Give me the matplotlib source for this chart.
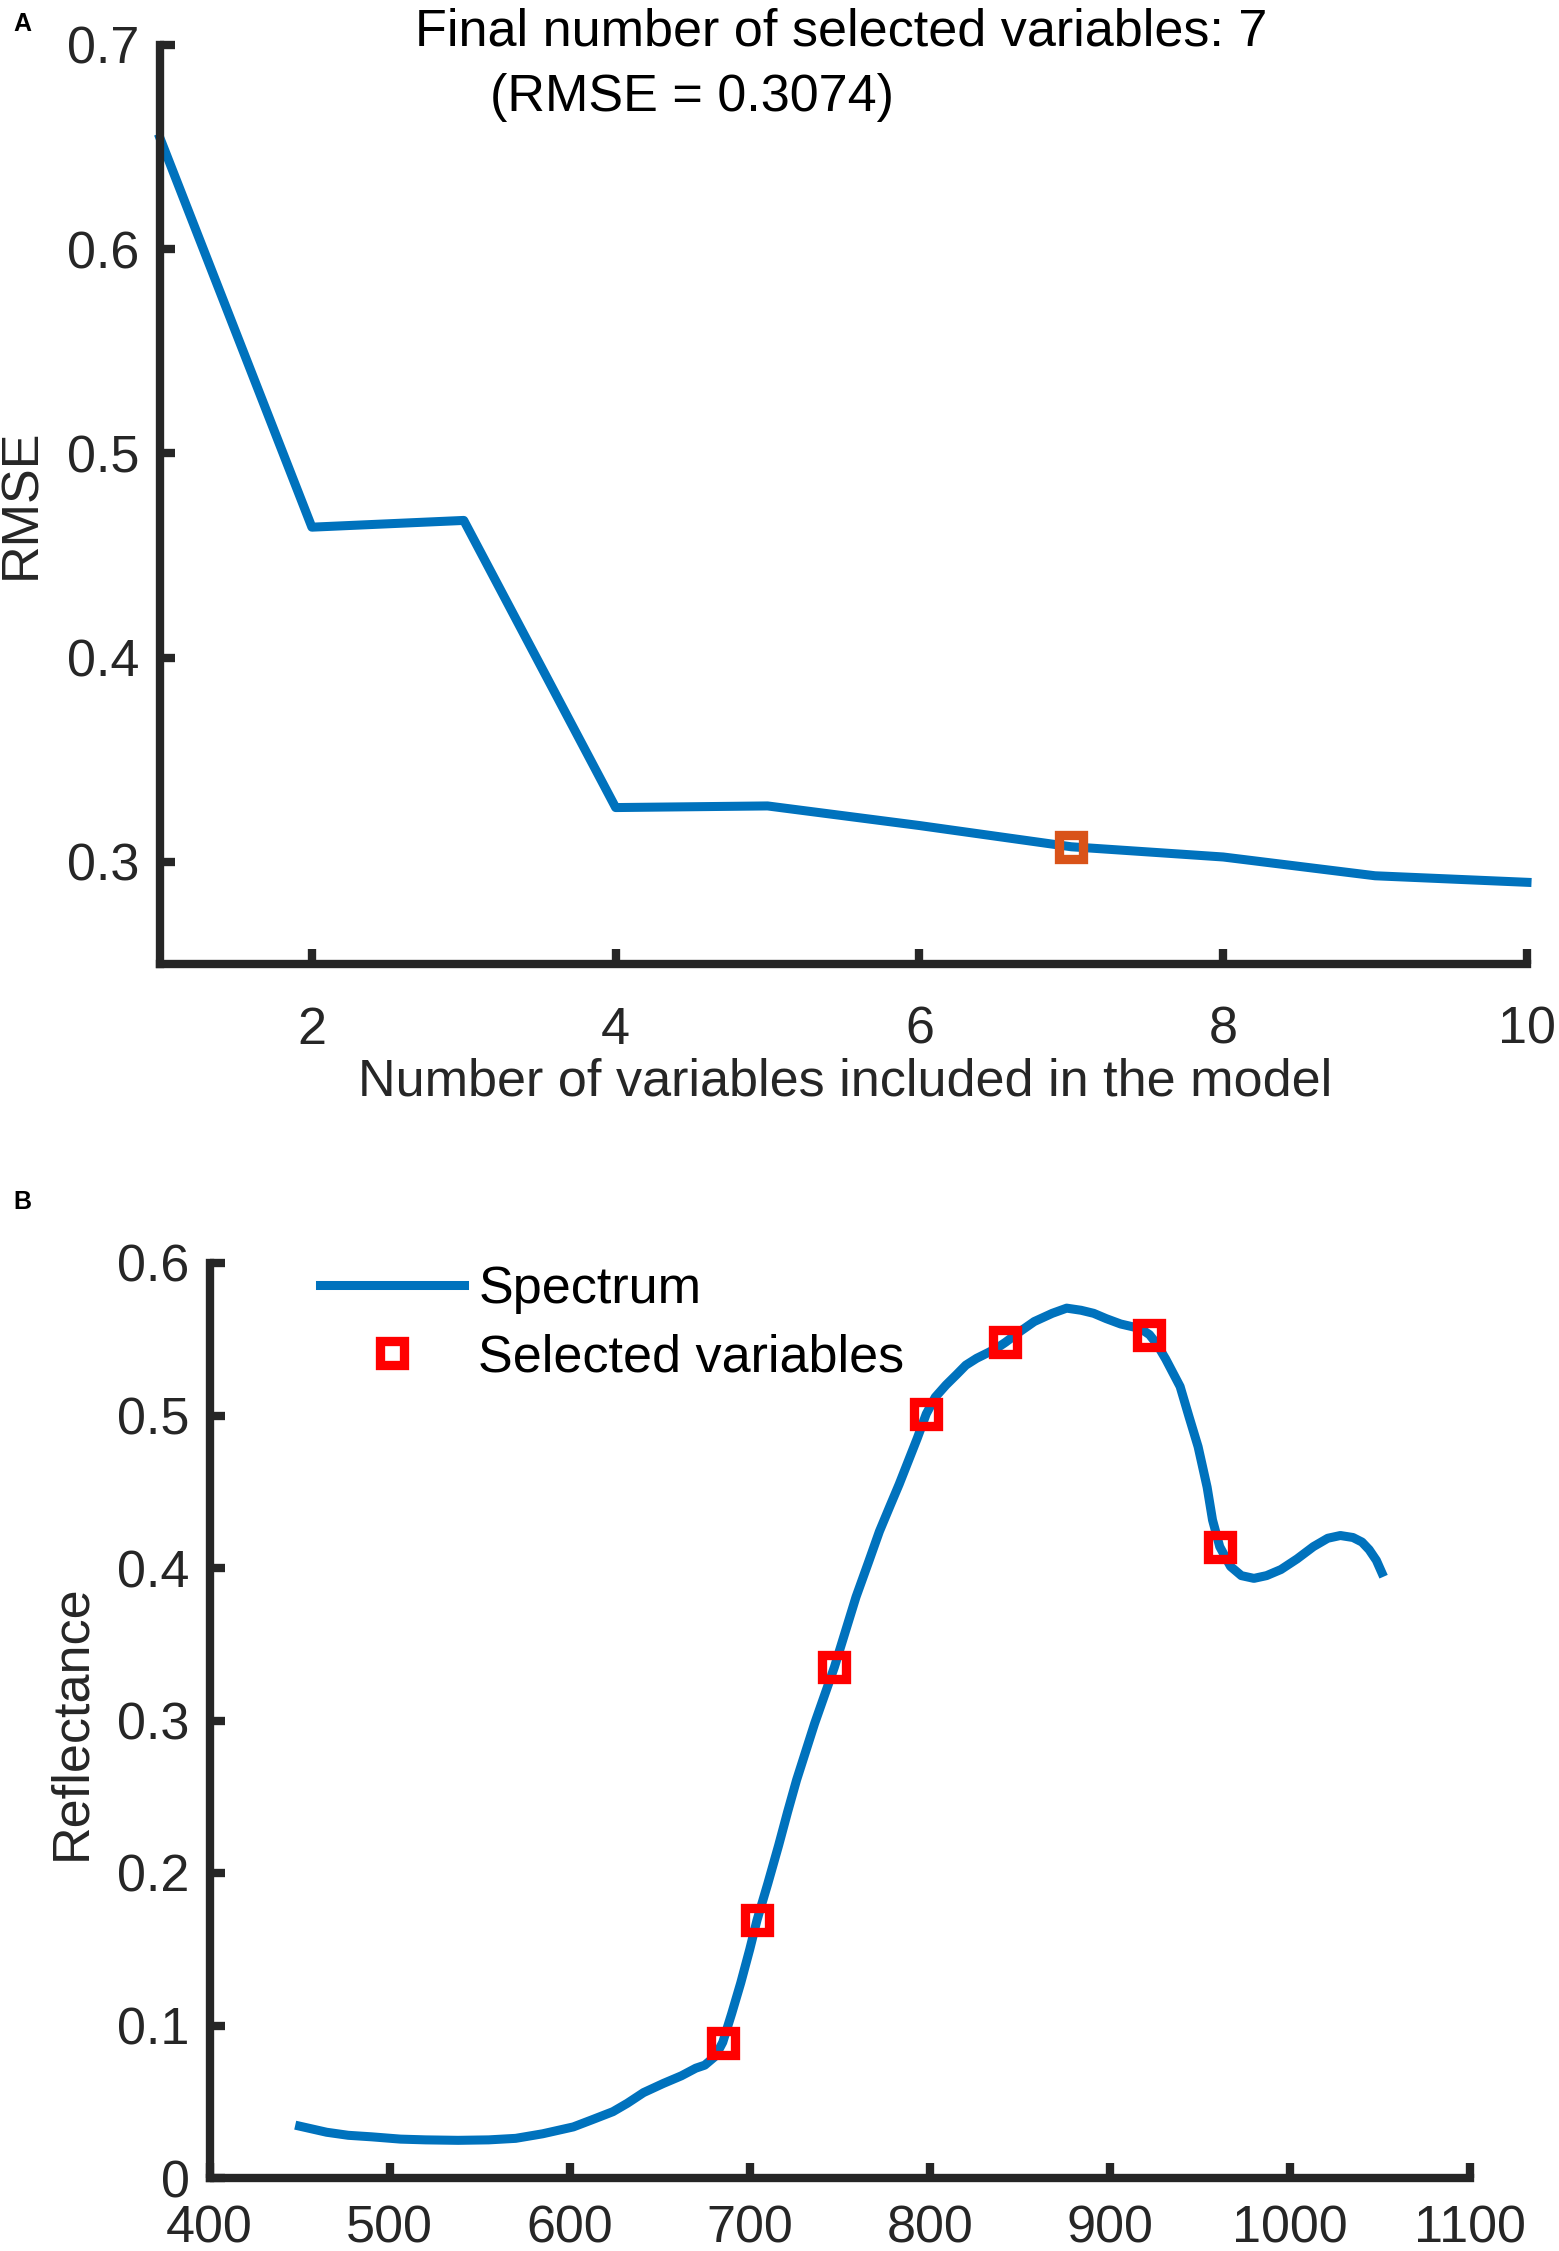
import matplotlib
matplotlib.use('Agg')
import matplotlib.pyplot as plt

plt.rcParams['font.family'] = ['Liberation Sans', 'DejaVu Sans']
plt.rcParams['font.size'] = 37.5

# Panel A: RMSE vs number of variables
n_vars = [1, 2, 3, 4, 5, 6, 7, 8, 9, 10]
rmse = [0.6544, 0.4639, 0.4672, 0.3266, 0.3274, 0.3178, 0.3074, 0.3024, 0.2932, 0.2900]
best_n = 7
best_rmse = 0.3074
a_xticks = [2, 4, 6, 8, 10]
a_yticks = [0.3, 0.4, 0.5, 0.6, 0.7]

# Panel B: reflectance spectrum and the selected wavelengths
wavelength = [450, 465, 477, 490, 506, 520, 538, 555, 570, 585, 602, 612, 624, 632,
              641, 652, 662, 670, 675, 681, 685, 690, 695, 700, 704, 710, 716, 721,
              726, 736, 747, 753, 759, 766, 772, 778, 783, 788, 793, 798, 803, 809,
              815, 820, 826, 832, 837, 842, 850, 858, 868, 876, 884, 891, 898, 906,
              917, 922, 926, 931, 939, 944, 949, 954, 957, 961, 967, 973, 980, 987,
              995, 1004, 1013, 1021, 1028, 1035, 1040, 1044, 1048, 1051]
reflectance = [0.034, 0.030, 0.028, 0.027, 0.0255, 0.025, 0.0247, 0.025, 0.026, 0.029,
               0.0335, 0.038, 0.0435, 0.049, 0.056, 0.062, 0.067, 0.072, 0.074, 0.080,
               0.089, 0.108, 0.128, 0.150, 0.169, 0.193, 0.218, 0.240, 0.261, 0.298,
               0.335, 0.358, 0.381, 0.404, 0.424, 0.441, 0.455, 0.470, 0.485, 0.501,
               0.512, 0.520, 0.527, 0.533, 0.5375, 0.541, 0.544, 0.548, 0.555, 0.5616,
               0.567, 0.5704, 0.569, 0.567, 0.5635, 0.560, 0.557, 0.553, 0.547, 0.537,
               0.519, 0.499, 0.4795, 0.453, 0.4315, 0.414, 0.401, 0.395, 0.3932, 0.395,
               0.399, 0.406, 0.414, 0.4195, 0.4213, 0.420, 0.417, 0.412, 0.405, 0.397]
sel_wavelength = [685, 704, 747, 798, 842, 922, 961]
sel_reflectance = [0.0885, 0.169, 0.335, 0.501, 0.548, 0.553, 0.414]
b_xticks = [400, 500, 600, 700, 800, 900, 1000, 1100]
b_yticks = [0, 0.1, 0.2, 0.3, 0.4, 0.5, 0.6]

blue = '#0072BD'
orange = '#D95319'
dark = '#262626'

W, H = 1559, 2251
fig = plt.figure(figsize=(W / 100, H / 100), dpi=100)


def style_axes(ax, xpad, ypad):
    for s in ['top', 'right']:
        ax.spines[s].set_visible(False)
    for s in ['left', 'bottom']:
        ax.spines[s].set_linewidth(6)
        ax.spines[s].set_color(dark)
    ax.tick_params(direction='in', length=11, width=6, color=dark, labelcolor=dark)
    ax.tick_params(axis='x', pad=xpad)
    ax.tick_params(axis='y', pad=ypad)


# ---- panel A ----
ax1 = fig.add_axes([160 / W, 1 - 964 / H, 1367 / W, 919 / H])
ax1.plot(n_vars, rmse, color=blue, lw=6.5, clip_on=False)
ax1.plot([best_n], [best_rmse], 's', mfc='none', mec=orange, ms=17, mew=6.7, clip_on=False)
ax1.set_xlim(1, 10)
ax1.set_ylim(0.25, 0.7)
ax1.set_xticks(a_xticks)
ax1.set_xticklabels([str(t) for t in a_xticks])
ax1.set_yticks(a_yticks)
ax1.set_yticklabels(['%.1f' % t for t in a_yticks])
style_axes(ax1, 30, 15)

fig.text(841 / W, 1 - 45 / H, 'Final number of selected variables: %d' % best_n,
         ha='center', va='baseline')
fig.text(692 / W, 1 - 111 / H, '(RMSE = %.4f)' % best_rmse, ha='center', va='baseline')
fig.text(845 / W, 1 - 1095 / H, 'Number of variables included in the model',
         ha='center', va='baseline', color=dark)
fig.text(22 / W, 1 - 504 / H, 'RMSE', rotation=90, ha='center', va='center', color=dark)
fig.text(13 / W, 1 - 31 / H, 'A', fontsize=18, fontweight='bold', va='baseline')

# ---- panel B ----
ax2 = fig.add_axes([209.6 / W, 1 - 2178 / H, 1260.4 / W, 915 / H])
ax2.plot(wavelength, reflectance, color=blue, lw=6.5, label='Spectrum')
ax2.plot(sel_wavelength, sel_reflectance, 's', mfc='none', mec='#FF0000', ms=17, mew=6.7,
         label='Selected variables')
ax2.set_xlim(400, 1100)
ax2.set_ylim(0, 0.6)
ax2.set_xticks(b_xticks)
ax2.set_xticklabels([str(t) for t in b_xticks])
ax2.set_yticks(b_yticks)
ax2.set_yticklabels(['0' if t == 0 else '%.1f' % t for t in b_yticks])
style_axes(ax2, 19, 14.5)
ax2.legend(loc='upper left', bbox_to_anchor=(0.0877, 0.998), frameon=False, borderpad=0,
           borderaxespad=0, handlelength=2.77, handletextpad=0.27, labelspacing=0.37,
           numpoints=1)

fig.text(72 / W, 1 - 1722 / H, 'Reflectance', rotation=90, ha='center', va='center', color=dark)
fig.text(13 / W, 1 - 1209 / H, 'B', fontsize=18, fontweight='bold', va='baseline')

fig.savefig('out.png', dpi=100)
